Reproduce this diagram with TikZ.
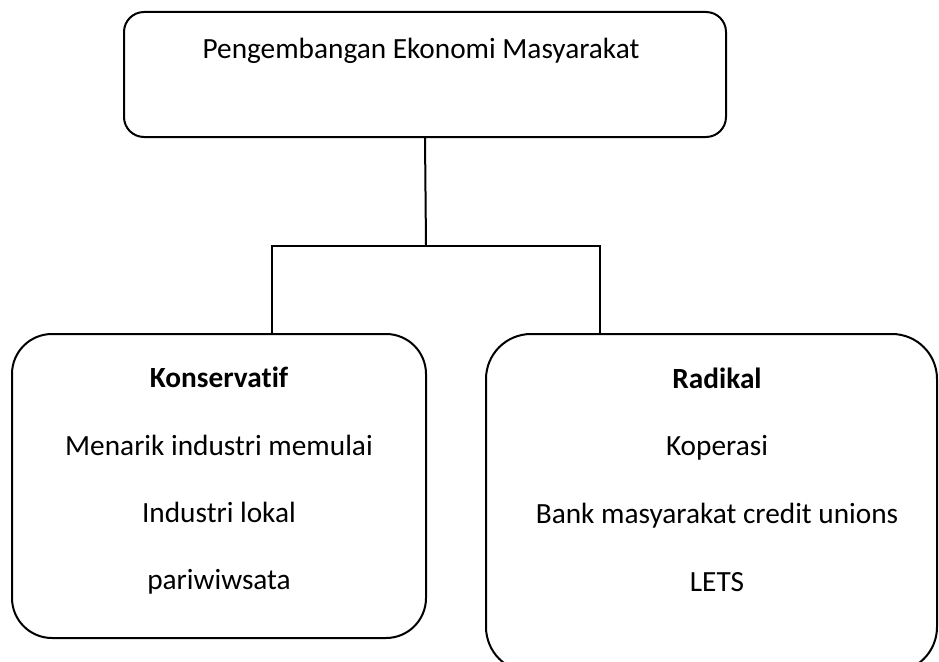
\documentclass[tikz,border=0pt]{standalone}
\usepackage{fontspec}
\setmainfont[RawFeature={-liga}]{Carlito}
\begin{document}
\begin{tikzpicture}[x=1pt,y=1pt,
  box/.style={draw=black,line width=2pt,rectangle,inner sep=0pt},
  lbl/.style={anchor=base,inner sep=0pt,font=\fontsize{29.3}{34}\selectfont},
  conn/.style={draw=black,line width=2pt}]
\useasboundingbox (0,0) rectangle (939,-661);
\fill[white] (0,0) rectangle (939,-661);
% boxes
\node[box,rounded corners=20pt,minimum width=602pt,minimum height=125pt] (top) at (425,-74.5) {};
\node[box,rounded corners=40pt,minimum width=414pt,minimum height=304pt] (left) at (219,-486) {};
\node[box,rounded corners=45pt,minimum width=451pt,minimum height=338pt] (right) at (711.5,-503) {};
% texts
\node[lbl] (t0) at (421,-59) {Pengembangan Ekonomi Masyarakat};
\node[lbl] (l0) at (219,-387) {\bfseries Konservatif};
\node[lbl] (l1) at (219,-455) {Menarik industri memulai};
\node[lbl] (l2) at (219,-522) {Industri lokal};
\node[lbl] (l3) at (219,-589) {pariwiwsata};
\node[lbl] (r0) at (717,-388) {\bfseries Radikal};
\node[lbl] (r1) at (717,-455) {Koperasi};
\node[lbl] (r2) at (717,-523) {Bank masyarakat credit unions};
\node[lbl] (r3) at (717,-591) {LETS};
% connectors
\coordinate (hub) at (426,-246);
\coordinate (lj) at (272,-334);
\coordinate (rj) at (600,-334);
\draw[conn] (top.south) -- (hub);
\draw[conn] (lj) |- (hub) -| (rj);
\end{tikzpicture}
\end{document}
